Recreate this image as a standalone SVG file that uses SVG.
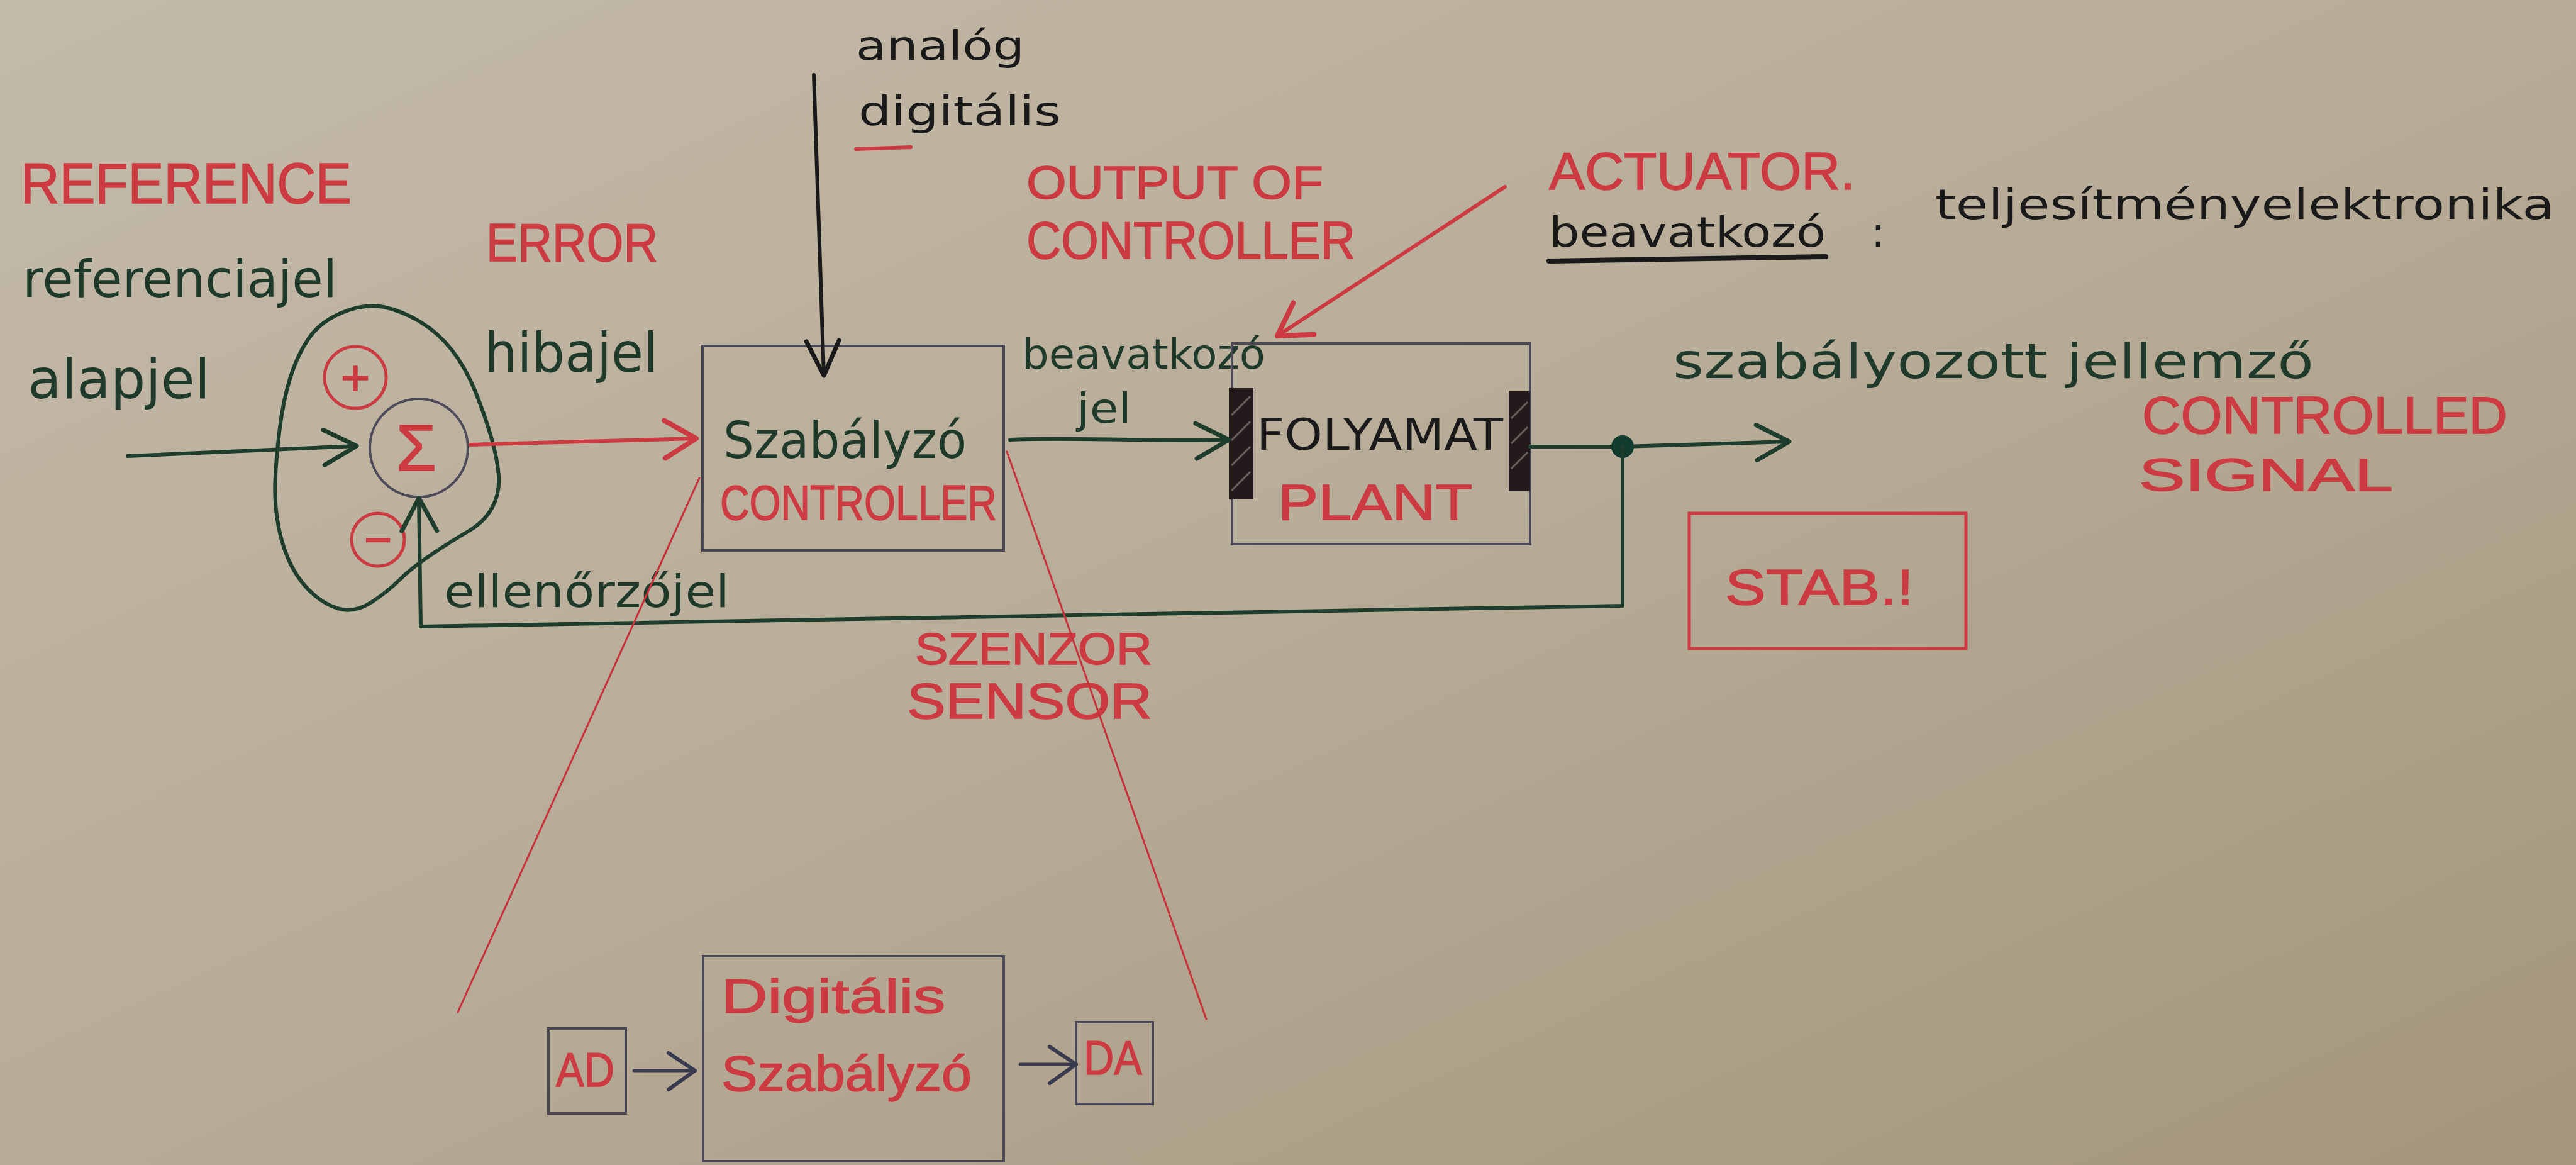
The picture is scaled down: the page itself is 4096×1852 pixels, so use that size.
<svg xmlns="http://www.w3.org/2000/svg" width="4096" height="1852" viewBox="0 0 4096 1852">
<defs>
<linearGradient id="paper" x1="0" y1="0" x2="1" y2="1">
<stop offset="0" stop-color="#c3baa8"/>
<stop offset="0.5" stop-color="#b7ac97"/>
<stop offset="1" stop-color="#a4967d"/>
</linearGradient>
<marker id="ah-g" markerUnits="userSpaceOnUse" viewBox="-70 -40 80 80" refX="0" refY="0" markerWidth="80" markerHeight="80" orient="auto" overflow="visible">
<path d="M-52,-28 L0,0 L-52,28" fill="none" stroke="#1f3d2c" stroke-width="7" stroke-linecap="round" stroke-linejoin="round"/>
</marker>
<marker id="ah-r" markerUnits="userSpaceOnUse" viewBox="-70 -40 80 80" refX="0" refY="0" markerWidth="80" markerHeight="80" orient="auto" overflow="visible">
<path d="M-50,-30 L0,0 L-50,30" fill="none" stroke="#cc3b42" stroke-width="8" stroke-linecap="round" stroke-linejoin="round"/>
</marker>
<marker id="ah-k" markerUnits="userSpaceOnUse" viewBox="-70 -40 80 80" refX="0" refY="0" markerWidth="80" markerHeight="80" orient="auto" overflow="visible">
<path d="M-55,-26 L0,0 L-55,26" fill="none" stroke="#1a1a1a" stroke-width="7" stroke-linecap="round" stroke-linejoin="round"/>
</marker>
<marker id="ah-b" markerUnits="userSpaceOnUse" viewBox="-70 -40 80 80" refX="0" refY="0" markerWidth="80" markerHeight="80" orient="auto" overflow="visible">
<path d="M-42,-28 L0,0 L-42,30" fill="none" stroke="#3a3a4e" stroke-width="6" stroke-linecap="round" stroke-linejoin="round"/>
</marker>
<style>
.red{fill:#cc3b42;stroke:#cc3b42;stroke-width:1.5;font-family:"Liberation Sans",Arial,sans-serif}
.grn{fill:#1f3a2b;font-family:"DejaVu Sans","Liberation Sans",sans-serif}
.blk{fill:#1a1a1a;font-family:"DejaVu Sans","Liberation Sans",sans-serif}
.box{fill:none;stroke:#4b4856;stroke-width:4}
.rbox{fill:none;stroke:#cc3b42;stroke-width:5}
.lg{fill:none;stroke:#1f3d2c;stroke-width:6;stroke-linecap:round;stroke-linejoin:round}
.lr{fill:none;stroke:#cc3b42;stroke-width:6;stroke-linecap:round}
.lrt{fill:none;stroke:#c8323a;stroke-width:3;stroke-linecap:round}
.lk{fill:none;stroke:#1a1a1a;stroke-width:6;stroke-linecap:round}
.lb{fill:none;stroke:#3a3a4e;stroke-width:5;stroke-linecap:round}
.bar{fill:#231b1b}
.hatch{stroke:#6a6060;stroke-width:3}
</style>
</defs>
<rect width="4096" height="1852" fill="url(#paper)"/>

<g id="labels">
<text class="red" x="33" y="323" font-size="90" textLength="526" lengthAdjust="spacingAndGlyphs">REFERENCE</text>
<text class="red" x="773" y="415" font-size="86" textLength="273" lengthAdjust="spacingAndGlyphs">ERROR</text>
<text class="grn" x="36" y="472" font-size="82" textLength="500" lengthAdjust="spacingAndGlyphs">referenciajel</text>
<text class="grn" x="44" y="633" font-size="88" textLength="290" lengthAdjust="spacingAndGlyphs">alapjel</text>
<text class="grn" x="770" y="591" font-size="88" textLength="276" lengthAdjust="spacingAndGlyphs">hibajel</text>
<text class="blk" x="1361" y="95" font-size="64" textLength="268" lengthAdjust="spacingAndGlyphs">analóg</text>
<text class="blk" x="1365" y="199" font-size="64" textLength="322" lengthAdjust="spacingAndGlyphs">digitális</text>
<path class="lr" d="M1361,237 L1448,234"/>
<text class="red" x="1632" y="316" font-size="74" textLength="472" lengthAdjust="spacingAndGlyphs">OUTPUT OF</text>
<text class="red" x="1632" y="411" font-size="84" textLength="523" lengthAdjust="spacingAndGlyphs">CONTROLLER</text>
<text class="grn" x="1625" y="586" font-size="66" textLength="387" lengthAdjust="spacingAndGlyphs">beavatkozó</text>
<text class="grn" x="1712" y="672" font-size="66" textLength="87" lengthAdjust="spacingAndGlyphs">jel</text>
<text class="red" x="2463" y="301" font-size="84" textLength="487" lengthAdjust="spacingAndGlyphs">ACTUATOR.</text>
<text class="blk" x="2463" y="392" font-size="66" textLength="440" lengthAdjust="spacingAndGlyphs">beavatkozó</text>
<path d="M2463,415 L2903,408" fill="none" stroke="#1a1a1a" stroke-width="8" stroke-linecap="round"/>
<text class="blk" x="2975" y="392" font-size="66">:</text>
<text class="blk" x="3077" y="348" font-size="66" textLength="985" lengthAdjust="spacingAndGlyphs">teljesítményelektronika</text>
<text class="grn" x="2660" y="601" font-size="76" textLength="1019" lengthAdjust="spacingAndGlyphs">szabályozott jellemző</text>
<text class="red" x="3406" y="689" font-size="84" textLength="581" lengthAdjust="spacingAndGlyphs">CONTROLLED</text>
<text class="red" x="3401" y="780" font-size="72" textLength="404" lengthAdjust="spacingAndGlyphs">SIGNAL</text>
<text class="grn" x="706" y="965" font-size="72" textLength="454" lengthAdjust="spacingAndGlyphs">ellenőrzőjel</text>
<text class="red" x="1455" y="1056" font-size="70" textLength="377" lengthAdjust="spacingAndGlyphs">SZENZOR</text>
<text class="red" x="1442" y="1142" font-size="80" textLength="390" lengthAdjust="spacingAndGlyphs">SENSOR</text>
</g>

<g id="sum-junction">
<path d="M545,496.5 Q581,482 610,488 Q639,494 668,511.5 Q697,529 718.5,556.5 Q740,584 755,620.5 Q770,657 780.5,693 Q791,729 793,756.5 Q795,784 782.5,807 Q770,830 744,845 Q718,860 686,881.5 Q654,903 635.5,921.5 Q617,940 592,956.5 Q567,973 545,969 Q523,965 501,947 Q479,929 464.5,901.5 Q450,874 443,838 Q436,802 437.5,765.5 Q439,729 444.5,683.5 Q450,638 461,602 Q472,566 490.5,538.5 Q509,511 545,496.5 Z" fill="none" stroke="#1f3d2c" stroke-width="6"/>
<circle cx="666" cy="712" r="78" fill="none" stroke="#4d4a5a" stroke-width="4"/>
<text class="red" x="662" y="748" font-size="104" text-anchor="middle">Σ</text>
<circle cx="565" cy="600" r="49" fill="none" stroke="#cc3b42" stroke-width="5"/>
<text class="red" x="565" y="628" font-size="80" text-anchor="middle">+</text>
<circle cx="601" cy="858" r="42" fill="none" stroke="#cc3b42" stroke-width="5"/>
<text class="red" x="601" y="884" font-size="76" text-anchor="middle">−</text>
</g>

<g id="controller">
<rect class="box" x="1117" y="550" width="479" height="325"/>
<text class="grn" x="1150" y="728" font-size="80" textLength="387" lengthAdjust="spacingAndGlyphs">Szabályzó</text>
<text class="red" x="1145" y="826" font-size="78" textLength="440" lengthAdjust="spacingAndGlyphs">CONTROLLER</text>
</g>

<g id="plant">
<rect class="box" x="1959" y="546" width="474" height="319"/>
<rect class="bar" x="1954" y="617" width="39" height="177"/>
<path class="hatch" d="M1958,660 L1988,630 M1958,700 L1988,670 M1958,740 L1988,710 M1958,780 L1988,750"/>
<rect class="bar" x="2399" y="622" width="34" height="159"/>
<path class="hatch" d="M2403,665 L2429,639 M2403,705 L2429,679 M2403,745 L2429,719"/>
<text class="blk" x="1998" y="715" font-size="70" textLength="392" lengthAdjust="spacingAndGlyphs">FOLYAMAT</text>
<text class="red" x="2032" y="826" font-size="80" textLength="309" lengthAdjust="spacingAndGlyphs">PLANT</text>
</g>

<g id="stab">
<rect class="rbox" x="2686" y="816" width="440" height="215"/>
<text class="red" x="2743" y="961" font-size="80" textLength="300" lengthAdjust="spacingAndGlyphs">STAB.!</text>
</g>

<g id="digital-controller">
<rect class="box" x="1118" y="1520" width="478" height="326"/>
<text class="red" x="1147" y="1610" font-size="76" textLength="356" lengthAdjust="spacingAndGlyphs">Digitális</text>
<text class="red" x="1147" y="1734" font-size="80" textLength="398" lengthAdjust="spacingAndGlyphs">Szabályzó</text>
</g>

<g id="ad">
<rect class="box" x="872" y="1635" width="123" height="135"/>
<text class="red" x="884" y="1727" font-size="76" textLength="93" lengthAdjust="spacingAndGlyphs">AD</text>
</g>

<g id="da">
<rect class="box" x="1711" y="1625" width="122" height="130"/>
<text class="red" x="1723" y="1708" font-size="76" textLength="93" lengthAdjust="spacingAndGlyphs">DA</text>
</g>

<g id="connectors">
<path class="lg" d="M203,725 L567,709" marker-end="url(#ah-g)"/>
<path class="lr" d="M748,707 L1107,697" marker-end="url(#ah-r)"/>
<path class="lk" d="M1294,119 L1310,597" marker-end="url(#ah-k)"/>
<path class="lg" d="M1606,699 C1700,694 1850,703 1954,699" marker-end="url(#ah-g)"/>
<path class="lg" d="M2433,710 L2580,710 L2845,702" marker-end="url(#ah-g)"/>
<circle cx="2580" cy="710" r="18" fill="#0f3a2d"/>
<path class="lg" d="M2580,710 L2580,963 L669,996 L666,792" marker-end="url(#ah-g)"/>
<path class="lr" d="M2393,297 L2031,534" marker-end="url(#ah-r)"/>
<path class="lrt" d="M1112,760 L728,1609"/>
<path class="lrt" d="M1601,718 L1918,1620"/>
<path class="lb" d="M1008,1702 L1105,1702" marker-end="url(#ah-b)"/>
<path class="lb" d="M1622,1692 L1711,1692" marker-end="url(#ah-b)"/>
</g>
</svg>
